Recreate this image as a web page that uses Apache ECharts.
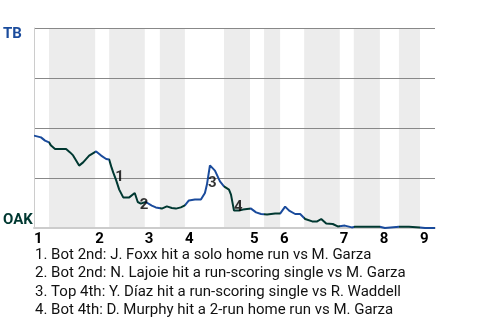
<!DOCTYPE html>
<html>
<head>
<meta charset="utf-8">
<script src="https://cdn.jsdelivr.net/npm/echarts@6/dist/echarts.min.js"></script>
<style>
html,body{margin:0;padding:0;background:#fff;}
#chart{width:480px;height:320px;}
</style>
</head>
<body>
<div id="chart"></div>
<script>
// Game progress (plays) and Tampa Bay win probability (%)
const playX = [0, 1.4, 2.2, 3.0, 3.4, 4.2, 6.4, 7.2, 7.8, 9.0, 9.8, 11.0, 12.4, 13.4, 14.4, 15.0, 15.4, 15.8, 16.4, 17.0, 17.8, 19.0, 20.1, 20.7, 21.3, 22.3, 23.5, 24.3, 25.5, 26.5, 27.5, 28.3, 29.3, 30.1, 30.9, 32.1, 33.3, 34.1, 34.5, 35.1, 36.1, 37.1, 37.9, 38.9, 39.3, 39.9, 40.9, 41.7, 43.3, 44.3, 45.3, 46.5, 48.1, 49.1, 50.1, 50.9, 52.1, 53.1, 54.1, 55.5, 56.5, 57.3, 58.3, 59.6, 60.6, 62.0, 63.4, 64.0, 69.0, 70.0, 72.8, 74.8, 77.0, 78.0, 80.0];
const tbWinPct = [46.2, 45.3, 43.7, 42.8, 41.2, 39.5, 39.5, 37.8, 36.3, 31.2, 32.8, 36.2, 38.3, 36.2, 34.5, 34.2, 30.8, 27.8, 23.8, 19.2, 15.3, 15.3, 17.5, 13.0, 12.2, 13.0, 11.2, 10.3, 9.7, 10.8, 10.0, 9.7, 10.3, 11.3, 13.8, 14.2, 14.2, 17.5, 21.7, 31.3, 28.7, 23.3, 20.8, 19.2, 16.7, 8.7, 8.7, 9.2, 9.7, 7.8, 7.0, 6.7, 7.2, 7.2, 10.7, 8.7, 7.0, 7.0, 4.5, 3.3, 3.3, 4.5, 2.2, 2.0, 0.8, 1.2, 0.3, 0.6, 0.6, 0.0, 0.6, 0.6, 0.3, 0.0, 0.0];

// Half-inning start positions (top 1st, bot 1st, top 2nd, ...) and game end
const halfStarts = [0, 3.0, 12.2, 15.0, 22.1, 25.1, 30.1, 37.9, 43.1, 45.9, 49.1, 53.9, 61.0, 63.8, 69.0, 72.8, 77.0];
const gameEnd = 80;
const inningLabels = ['1', '2', '3', '4', '5', '6', '7', '8', '9'];

// Key plays
const eventNums = ['1', '2', '3', '4'];
const eventX = [16.2, 21.1, 34.7, 39.9];
const eventPct = [25.6, 11.6, 22.4, 10.4];
const eventTexts = [
  '1. Bot 2nd: J. Foxx hit a solo home run vs M. Garza',
  '2. Bot 2nd: N. Lajoie hit a run-scoring single vs M. Garza',
  '3. Top 4th: Y. Díaz hit a run-scoring single vs R. Waddell',
  '4. Bot 4th: D. Murphy hit a 2-run home run vs M. Garza'
];

const teamTop = 'TB';
const teamBottom = 'OAK';
const TB_BLUE = '#1a4b9c';
const OAK_GREEN = '#003831';

// Build bands and pieces
const bottomBands = [];
const pieces = [];
for (let i = 0; i < halfStarts.length; i++) {
  const s = halfStarts[i];
  const e = i + 1 < halfStarts.length ? halfStarts[i + 1] : gameEnd;
  const isBottom = i % 2 === 1;
  if (isBottom) bottomBands.push([s, e]);
  pieces.push({ gte: s, lt: (i + 1 < halfStarts.length ? e : gameEnd + 1), color: isBottom ? OAK_GREEN : TB_BLUE });
}
const inningStarts = halfStarts.filter((_, i) => i % 2 === 0);

const chart = echarts.init(document.getElementById('chart'), null, { renderer: 'canvas' });
chart.setOption({
  animation: false,
  textStyle: { fontFamily: 'Roboto, "Noto Sans", sans-serif' },
  grid: { left: 34, right: 45, top: 28, bottom: 92 },
  title: {
    text: eventTexts.join('\n'),
    left: 35,
    top: 246,
    padding: 0,
    textStyle: { fontSize: 15, fontWeight: 'normal', color: '#111', lineHeight: 18.4, fontFamily: 'Roboto, sans-serif' }
  },
  graphic: [
    { type: 'text', left: 3, top: 27, style: { text: teamTop, fill: TB_BLUE, font: 'bold 15px Roboto, sans-serif' } },
    { type: 'text', left: 3, top: 213, style: { text: teamBottom, fill: OAK_GREEN, font: 'bold 15px Roboto, sans-serif' } }
  ],
  visualMap: {
    show: false,
    type: 'piecewise',
    dimension: 0,
    seriesIndex: 1,
    pieces: pieces
  },
  xAxis: {
    type: 'value',
    min: 0,
    max: gameEnd,
    splitLine: { show: false },
    axisTick: { show: false },
    axisLine: { show: true, lineStyle: { color: '#cccccc', width: 2 } },
    axisLabel: {
      customValues: inningStarts,
      formatter: function (v) {
        const idx = inningStarts.indexOf(v);
        return idx >= 0 ? inningLabels[idx] : '';
      },
      align: 'left',
      margin: 4,
      fontSize: 15,
      fontWeight: 'bold',
      color: '#000',
      showMinLabel: true,
      showMaxLabel: true
    },
    z: 1
  },
  yAxis: {
    type: 'value',
    min: 0,
    max: 100,
    interval: 25,
    axisLabel: { show: false },
    axisTick: { show: false },
    axisLine: { show: true, lineStyle: { color: '#cccccc', width: 1 } },
    splitLine: { show: true, lineStyle: { color: '#888888', width: 1 } },
    z: 1
  },
  series: [
    {
      type: 'custom',
      z: 0,
      silent: true,
      data: bottomBands,
      renderItem: function (params, api) {
        const p0 = api.coord([api.value(0), 100]);
        const p1 = api.coord([api.value(1), 0]);
        return {
          type: 'rect',
          shape: { x: p0[0], y: p0[1], width: p1[0] - p0[0], height: p1[1] - p0[1] },
          style: { fill: '#ececec' }
        };
      },
      encode: { x: [0, 1] }
    },
    {
      type: 'line',
      z: 3,
      data: playX.map((x, i) => [x, tbWinPct[i]]),
      showSymbol: false,
      symbol: 'none',
      lineStyle: { width: 2 }
    },
    {
      type: 'scatter',
      z: 4,
      symbolSize: 0,
      data: eventX.map((x, i) => [x, eventPct[i], eventNums[i]]),
      label: {
        show: true,
        position: 'right',
        distance: 0,
        formatter: function (p) { return p.data[2]; },
        fontSize: 15,
        fontWeight: 'bold',
        color: '#000'
      }
    }
  ]
});
</script>
</body>
</html>
